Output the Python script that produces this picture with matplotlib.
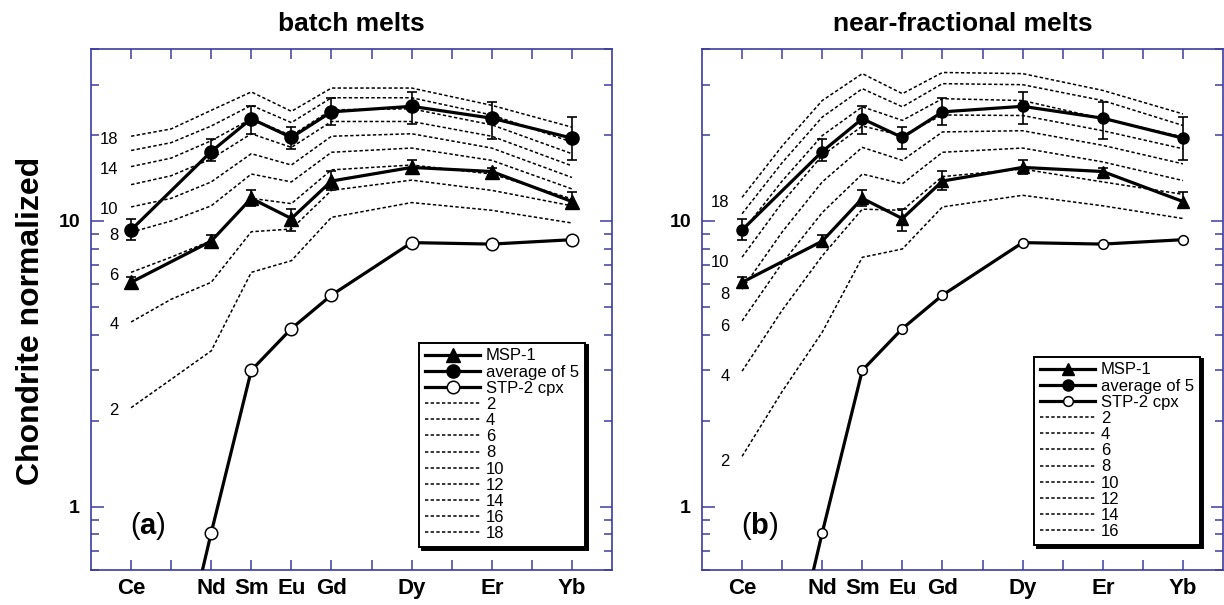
import matplotlib
matplotlib.use("Agg")
import matplotlib.pyplot as plt
from matplotlib.ticker import FixedLocator, FixedFormatter, LogLocator, NullFormatter

plt.rcParams['font.family'] = ['Liberation Sans', 'DejaVu Sans']
plt.rcParams['mathtext.fontset'] = 'custom'
plt.rcParams['mathtext.rm'] = 'Liberation Sans'
plt.rcParams['mathtext.bf'] = 'Liberation Sans:bold'

# REE positions on the chondrite plot (La=0 ... Lu=13, Pm left out)
ree_order = ['La', 'Ce', 'Pr', 'Nd', 'Sm', 'Eu', 'Gd', 'Tb', 'Dy', 'Ho', 'Er', 'Tm', 'Yb', 'Lu']
tick_labels = ['Ce', 'Nd', 'Sm', 'Eu', 'Gd', 'Dy', 'Er', 'Yb']

# measured samples
meas_elems = ['Ce', 'Nd', 'Sm', 'Eu', 'Gd', 'Dy', 'Er', 'Yb']
msp1 = [6.1, 8.5, 12.0, 10.2, 13.8, 15.4, 14.9, 11.7]
msp1_lo = [5.85, 8.1, 11.3, 9.2, 12.8, 14.6, 14.5, 11.3]
msp1_hi = [6.35, 8.9, 12.8, 11.0, 15.0, 16.3, 15.3, 12.6]
avg5 = [9.3, 17.5, 22.8, 19.6, 24.1, 25.2, 22.9, 19.5]
avg5_lo = [8.6, 16.2, 20.2, 17.9, 21.6, 21.8, 19.4, 16.3]
avg5_hi = [10.2, 19.4, 25.3, 21.4, 26.9, 28.3, 26.1, 23.1]
stp2 = [0.052, 0.81, 3.0, 4.2, 5.5, 8.4, 8.3, 8.6]

# model melts (% melting)
model_elems = ['Ce', 'Pr', 'Nd', 'Sm', 'Eu', 'Gd', 'Dy', 'Er', 'Yb']
batch_2 = [2.22, 2.79, 3.51, 6.61, 7.26, 10.3, 11.6, 10.9, 9.84]
batch_4 = [4.43, 5.32, 6.10, 9.17, 9.37, 12.8, 13.9, 12.8, 11.3]
batch_6 = [6.61, 7.47, 8.53, 12.0, 11.5, 15.1, 15.7, 14.6, 11.95]
batch_8 = [9.13, 10.0, 11.3, 14.6, 13.7, 17.4, 18.0, 16.3, 12.95]
batch_10 = [11.2, 12.0, 13.7, 17.2, 15.7, 19.8, 20.2, 18.0, 14.2]
batch_12 = [13.4, 14.4, 16.5, 20.2, 18.1, 22.3, 22.3, 19.8, 15.6]
batch_14 = [15.5, 16.6, 19.1, 22.8, 19.9, 24.5, 24.7, 21.7, 17.2]
batch_16 = [17.65, 18.8, 21.5, 25.4, 22.1, 27.0, 27.0, 23.5, 18.9]
batch_18 = [19.8, 21.0, 24.4, 28.3, 24.2, 29.2, 29.2, 25.4, 21.3]
batch_names = ['2', '4', '6', '8', '10', '12', '14', '16', '18']
batch_tags = ['2', '4', '6', '8', '10', '', '14', '', '18']

frac_2 = [1.50, 2.53, 4.08, 7.46, 7.98, 11.2, 12.3, 11.3, 10.2]
frac_4 = [2.98, 4.87, 7.55, 11.0, 10.9, 14.3, 15.2, 13.7, 12.4]
frac_6 = [4.47, 7.12, 10.7, 14.6, 13.5, 17.4, 18.0, 16.1, 13.85]
frac_8 = [5.77, 9.15, 13.7, 18.1, 16.3, 20.5, 20.7, 18.4, 15.85]
frac_10 = [7.47, 11.6, 16.95, 21.5, 19.9, 23.5, 23.4, 20.7, 17.9]
frac_12 = [9.15, 13.8, 19.9, 25.1, 22.5, 26.8, 26.4, 22.8, 19.7]
frac_14 = [10.6, 16.0, 23.1, 29.05, 25.1, 30.25, 30.0, 26.4, 21.6]
frac_16 = [12.1, 18.3, 26.4, 32.8, 27.9, 33.1, 32.8, 28.65, 23.7]
frac_names = ['2', '4', '6', '8', '10', '12', '14', '16']
frac_tags = ['2', '4', '6', '8', '10', '', '', '18']

BLUE = '#3c3ca0'


def pos(elems):
    return [ree_order.index(e) for e in elems]


def draw_panel(ax, lines, names, tags, tag_dy, big, panel, legend_xy):
    mx = pos(model_elems)
    xm = pos(meas_elems)
    dotted = []
    for vals, name, tag in zip(lines, names, tags):
        h, = ax.plot(mx, vals, color='black', lw=1.1, ls=(0, (2.2, 1.5)), label=name, zorder=2)
        dotted.append(h)
        if tag:
            ax.annotate(tag, (mx[0], vals[0]), xytext=(-9, tag_dy), textcoords='offset points',
                        ha='right', va='center', fontsize=12)

    ms = 9.5 if big else 8
    ms_open = 9 if big else 7
    lw = 2.3
    ax.errorbar(xm, msp1, yerr=[[v - l for v, l in zip(msp1, msp1_lo)], [h - v for v, h in zip(msp1, msp1_hi)]],
                fmt='none', ecolor='black', elinewidth=1.2, capsize=3.5, capthick=1.2, zorder=3)
    ax.errorbar(xm, avg5, yerr=[[v - l for v, l in zip(avg5, avg5_lo)], [h - v for v, h in zip(avg5, avg5_hi)]],
                fmt='none', ecolor='black', elinewidth=1.2, capsize=3.5, capthick=1.2, zorder=3)
    h1, = ax.plot(xm, msp1, '-^', color='black', lw=lw, ms=ms, label='MSP-1', zorder=4)
    h2, = ax.plot(xm, avg5, '-o', color='black', lw=lw, ms=ms, label='average of 5', zorder=4)
    h3, = ax.plot(xm, stp2, '-o', color='black', lw=lw, ms=ms_open, mfc='white', mec='black',
                  mew=1.1, label='STP-2 cpx', zorder=4)

    ax.set_yscale('log')
    ax.set_xlim(0, 13)
    ax.set_ylim(0.6, 40)
    ax.yaxis.set_major_locator(FixedLocator([1, 10]))
    ax.yaxis.set_major_formatter(FixedFormatter(['1', '10']))
    ax.yaxis.set_minor_locator(LogLocator(subs=range(2, 10)))
    ax.yaxis.set_minor_formatter(NullFormatter())
    ax.set_xticks(range(1, 13))
    ax.set_xticklabels([e if e in tick_labels else '' for e in ree_order[1:13]],
                       fontsize=16, fontweight='bold')
    for t in ax.get_yticklabels():
        t.set_fontsize(14)
        t.set_fontweight('bold')
    ax.tick_params(which='both', direction='in', top=True, right=True, color=BLUE, width=1.1)
    ax.tick_params(axis='x', length=7, pad=6)
    ax.tick_params(axis='y', which='major', length=9, pad=8)
    ax.tick_params(axis='y', which='minor', length=5.5)
    for s in ax.spines.values():
        s.set_color(BLUE)
        s.set_linewidth(1.2)

    ax.text(0.075, 0.085, r'($\mathbf{' + panel + r'}$)', transform=ax.transAxes, fontsize=21,
            ha='left', va='center')

    leg = ax.legend([h1, h2, h3] + dotted, ['MSP-1', 'average of 5', 'STP-2 cpx'] + names,
                    loc='lower right', bbox_to_anchor=legend_xy, fontsize=12, labelspacing=0.07,
                    handlelength=3.3, handletextpad=0.35, borderpad=0.35, borderaxespad=0,
                    fancybox=False, framealpha=1, shadow={'color': 'black', 'alpha': 1})
    leg.get_frame().set_edgecolor('black')
    leg.get_frame().set_linewidth(1.4)


fig = plt.figure(figsize=(12.24, 6.05), dpi=100)
ax1 = fig.add_axes([91 / 1224, 35 / 605, 521 / 1224, 521 / 605])
ax2 = fig.add_axes([702 / 1224, 35 / 605, 521 / 1224, 521 / 605])

draw_panel(ax1, [batch_2, batch_4, batch_6, batch_8, batch_10, batch_12, batch_14, batch_16, batch_18],
           batch_names, batch_tags, -2, True, 'a', (0.948, 0.044))
draw_panel(ax2, [frac_2, frac_4, frac_6, frac_8, frac_10, frac_12, frac_14, frac_16],
           frac_names, frac_tags, -4, False, 'b', (0.956, 0.048))

fig.text(ax1.get_position().x0 + ax1.get_position().width / 2, 0.96, 'batch melts',
         ha='center', va='center', fontsize=19, fontweight='bold')
fig.text(ax2.get_position().x0 + ax2.get_position().width / 2, 0.96, 'near-fractional melts',
         ha='center', va='center', fontsize=19, fontweight='bold')
fig.text(0.025, 0.47, 'Chondrite normalized', rotation=90, ha='center', va='center',
         fontsize=23, fontweight='bold')

fig.savefig('out.png', dpi=100)
